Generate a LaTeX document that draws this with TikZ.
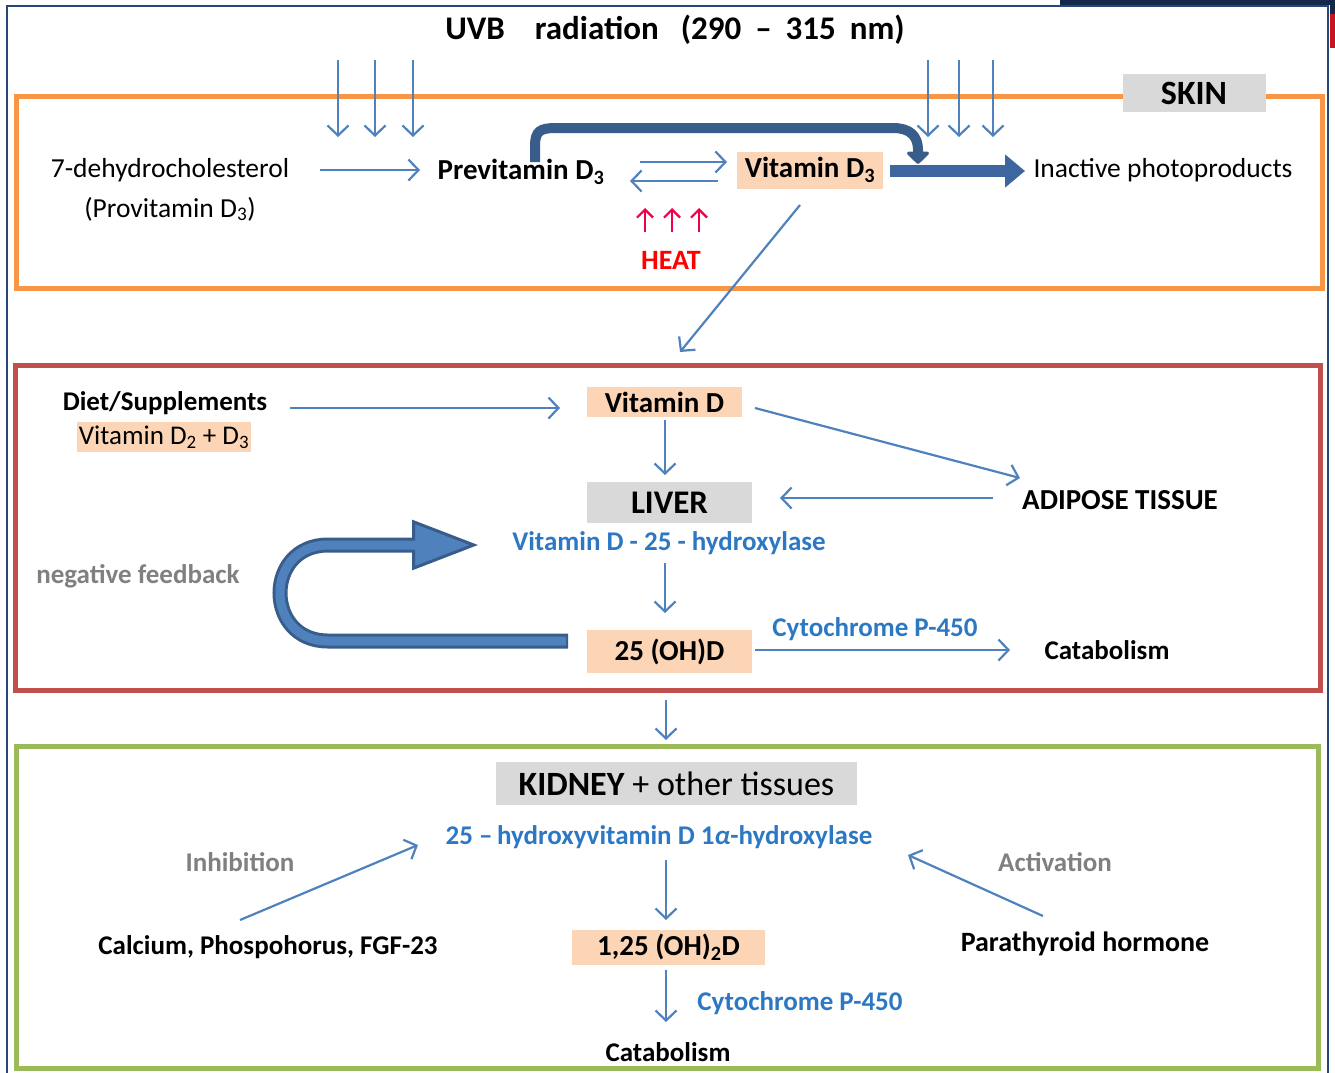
\documentclass[tikz,border=0pt]{standalone}
\usepackage{fontspec}
\setmainfont{Carlito}
\usetikzlibrary{arrows.meta}

\definecolor{flowblue}{RGB}{79,129,189}
\definecolor{enzblue}{RGB}{45,120,195}
\definecolor{notegrey}{RGB}{128,128,128}
\definecolor{peachfill}{RGB}{251,213,181}
\definecolor{boxgrey}{RGB}{217,217,217}
\definecolor{skinorange}{RGB}{247,150,70}
\definecolor{liverred}{RGB}{192,80,77}
\definecolor{kidneygreen}{RGB}{155,187,89}
\definecolor{framenavy}{RGB}{40,70,120}
\definecolor{curvenavy}{RGB}{56,93,138}
\definecolor{blockblue}{RGB}{62,102,158}
\definecolor{fbfill}{RGB}{79,129,189}
\definecolor{heatred}{RGB}{255,0,0}
\definecolor{heatarrow}{RGB}{240,0,70}
\definecolor{bgnavy}{RGB}{20,40,75}
\definecolor{bgred}{RGB}{200,20,30}

\newcommand{\fsz}[1]{\fontsize{#1}{#1}\selectfont}

\begin{document}
\begin{tikzpicture}[x=1pt, y=-1pt]
    \tikzstyle{every node}=[inner sep=0, align=center]
    \tikzstyle{plain}=[font=\fsz{27.5}]
    \tikzstyle{lbl}=[font=\fsz{28}\bfseries]
    \tikzstyle{biglbl}=[font=\fsz{29}\bfseries]
    \tikzstyle{smalllbl}=[font=\fsz{27}\bfseries]
    \tikzstyle{enzyme}=[font=\fsz{27}\bfseries, text=enzblue]
    \tikzstyle{note}=[font=\fsz{27}\bfseries, text=notegrey]
    \tikzstyle{peach}=[fill=peachfill]
    \tikzstyle{greybox}=[fill=boxgrey]
    \tikzstyle{flow}=[draw=flowblue, line width=2.2pt, -{Straight Barb[length=10pt,width=21pt]}]
    \tikzstyle{heatflow}=[draw=heatarrow, line width=2.2pt, -{Straight Barb[length=8pt,width=16pt]}]
    \useasboundingbox (0,0) rectangle (1335,1072);

    \fill[bgnavy] (1060,0) rectangle (1335,5);
    \fill[bgnavy] (1330,0) rectangle (1335,14);
    \fill[bgred] (1330,14) rectangle (1335,48);
    \draw[framenavy, line width=2.5pt] (7,1080) -- (7,6) -- (1328,6) -- (1328,1080);

    \draw[skinorange, line width=5pt] (16,96) rectangle (1322,288);
    \draw[liverred, line width=5pt] (15,365) rectangle (1320,690);
    \draw[kidneygreen, line width=5pt] (16,746) rectangle (1318,1068);

    \node[font=\fsz{33}\bfseries] (uvb) at (675,30)
        {UVB\hspace{30pt}radiation\hspace{22pt}(290\hspace{14pt}–\hspace{14pt}315\hspace{14pt}nm)};
    \node[greybox, minimum width=143pt, minimum height=38pt, font=\fsz{34}\bfseries] (skin) at (1194,93) {SKIN};
    \node[plain] (dehyd) at (170,170) {7-dehydrocholesterol};
    \node[plain] (provit) at (170,209) {(Provitamin D\textsubscript{3})};
    \node[biglbl] (previt) at (521,172) {Previtamin D\textsubscript{3}};
    \node[biglbl, peach, minimum width=146pt, minimum height=37pt] (vitd3) at (810,170) {Vitamin D\textsubscript{3}};
    \node[plain] (inactive) at (1163,170) {Inactive photoproducts};
    \node[font=\fsz{28}\bfseries, text=heatred] (heat) at (671,260) {HEAT};

    \node[smalllbl] (diet) at (165,403) {Diet/Supplements};
    \node[peach, font=\fsz{27}, minimum width=174pt, minimum height=30pt] (vitd23) at (164,437)
        {Vitamin D\textsubscript{2} + D\textsubscript{3}};
    \node[biglbl, peach, minimum width=155pt, minimum height=30pt] (vitd) at (664.5,402) {Vitamin D};
    \node[greybox, font=\fsz{33}\bfseries, minimum width=165pt, minimum height=41pt] (liver) at (669.5,502.5) {LIVER};
    \node[biglbl] (adipose) at (1120,500) {ADIPOSE TISSUE};
    \node[enzyme] (hydrox) at (669,543) {Vitamin D - 25 - hydroxylase};
    \node[note] (negfb) at (138,576) {negative feedback};
    \node[biglbl, peach, minimum width=165pt, minimum height=43pt] (oh) at (669.5,651.5) {25 (OH)D};
    \node[enzyme] (cyt1) at (875,629) {Cytochrome P-450};
    \node[smalllbl] (catab1) at (1107,650) {Catabolism};

    \node[greybox, font=\fsz{34}, minimum width=361pt, minimum height=43pt] (kidney) at (676.5,783.5)
        {\textbf{KIDNEY} + other tissues};
    \node[enzyme] (enz2) at (659,837) {25 –\,hydroxyvitamin D 1\textit{α}-hydroxylase};
    \node[note] (inhib) at (240,862) {Inhibition};
    \node[note] (activ) at (1055,862) {Activation};
    \node[smalllbl] (calc) at (268,947) {Calcium, Phospohorus, FGF-23};
    \node[lbl] (pth) at (1085,944) {Parathyroid hormone};
    \node[biglbl, peach, minimum width=193pt, minimum height=35pt] (dihyd) at (668.5,947.5) {1,25 (OH)\textsubscript{2}D};
    \node[enzyme] (cyt2) at (800,1003) {Cytochrome P-450};
    \node[smalllbl] (catab2) at (668,1052) {Catabolism};

    \foreach \dx in {-337,-300,-262,253,284,318}
        \draw[flow] ([shift={(\dx,30)}]uvb.center) -- ([shift={(\dx,107)}]uvb.center);
    \foreach \dx in {-26,1,28}
        \draw[heatflow] ([shift={(\dx,-28)}]heat.center) -- ([shift={(\dx,-52)}]heat.center);

    \draw[flow] ([shift={(150,0)}]dehyd.center) -- ([shift={(-101,-2)}]previt.center);
    \draw[flow] ([shift={(119,-10)}]previt.center) -- ([shift={(-83,-8)}]vitd3.center);
    \draw[flow] ([shift={(-92,11)}]vitd3.center) -- ([shift={(109,9)}]previt.center);
    \draw[curvenavy, line width=10pt, -{Triangle[length=13pt,width=26pt,round]}]
        ([shift={(14,-10)}]previt.center) -- (535,146) .. controls (535,131) and (540,128) .. (556,128)
        -- (893,128) .. controls (910,128) and (918,136) .. (918,150) -- ([shift={(108,-6)}]vitd3.center);
    \draw[blockblue, line width=12pt, -{Triangle[length=20pt,width=32pt]}]
        ([shift={(80,1)}]vitd3.center) -- ([shift={(-138,1)}]inactive.center);
    \draw[flow] ([shift={(-10,35)}]vitd3.center) -- ([shift={(15.5,-50)}]vitd.center);

    \draw[flow] ([shift={(125,5)}]diet.center) -- ([shift={(-104.5,6)}]vitd.center);
    \draw[flow] ([shift={(0.5,18)}]vitd.center) -- ([shift={(-4.5,-27.5)}]liver.center);
    \draw[flow] ([shift={(90.5,6)}]vitd.center) -- ([shift={(-100,-22)}]adipose.center);
    \draw[flow] ([shift={(-127,-2)}]adipose.center) -- ([shift={(110.5,-4.5)}]liver.center);
    \draw[flow] ([shift={(-4,20)}]hydrox.center) -- ([shift={(-4.5,-38.5)}]oh.center);
    \draw[flow] ([shift={(85.5,-1.5)}]oh.center) -- ([shift={(-97,0)}]catab1.center);
    \draw[curvenavy, line width=15pt, -{Triangle[length=66pt,width=50pt,line width=3pt,fill=fbfill]}]
        ([shift={(-101.5,-10.5)}]oh.center) -- (328,641) .. controls (264,641) and (264,545) .. (328,545)
        -- ([shift={(-191,2)}]hydrox.center);
    \draw[fbfill, line width=9pt]
        ([shift={(-103.5,-10.5)}]oh.center) -- (328,641) .. controls (264,641) and (264,545) .. (328,545)
        -- ([shift={(-249,2)}]hydrox.center);

    \draw[flow] ([shift={(-3.5,48.5)}]oh.center) -- ([shift={(-10.5,-43.5)}]kidney.center);
    \draw[flow] ([shift={(7,23)}]enz2.center) -- ([shift={(-2.5,-27.5)}]dihyd.center);
    \draw[flow] ([shift={(-2.5,22.5)}]dihyd.center) -- ([shift={(-2,-30)}]catab2.center);
    \draw[flow] ([shift={(-28,-27)}]calc.center) -- ([shift={(-241,8)}]enz2.center);
    \draw[flow] ([shift={(-42,-28)}]pth.center) -- ([shift={(249,18)}]enz2.center);
\end{tikzpicture}
\end{document}
